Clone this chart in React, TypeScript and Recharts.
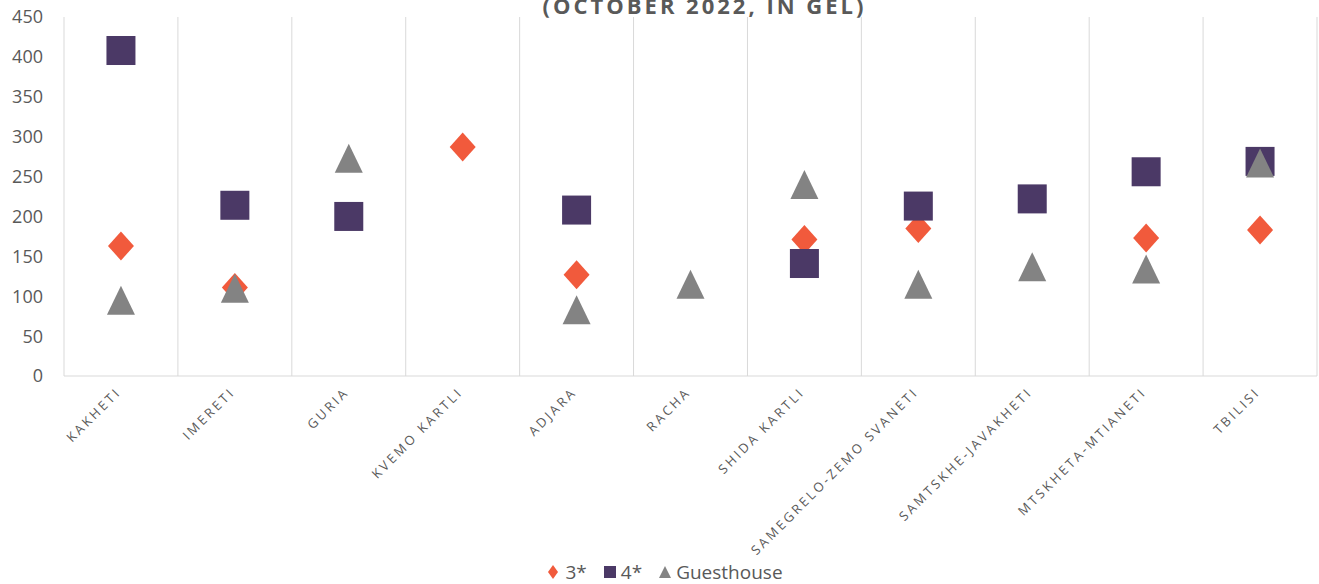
import { ComposedChart, Line, XAxis, YAxis, CartesianGrid, Legend } from "recharts";

const regions = [
  "KAKHETI",
  "IMERETI",
  "GURIA",
  "KVEMO KARTLI",
  "ADJARA",
  "RACHA",
  "SHIDA KARTLI",
  "SAMEGRELO-ZEMO SVANETI",
  "SAMTSKHE-JAVAKHETI",
  "MTSKHETA-MTIANETI",
  "TBILISI",
];

const threeStar = [163, 111, null, 287, 127, null, 171, 185, null, 173, 183];
const fourStar = [408, 214, 200, null, 208, null, 141, 213, 222, 256, 269];
const guesthouse = [95, 110, 273, null, 83, 115, 240, 115, 137, 134, 267];

const yTicks = [0, 50, 100, 150, 200, 250, 300, 350, 400, 450];

const data = regions.map((name, i) => ({
  name,
  three: threeStar[i],
  four: fourStar[i],
  guest: guesthouse[i],
}));

const ORANGE = "#F15A3C";
const PURPLE = "#4B3966";
const GRAY = "#838383";
const TEXT = "#595959";

const Diamond = (props: any) => {
  const { cx, cy, value, index } = props;
  if (cy == null || value == null) return <g key={`d${index}`} />;
  const w = 13, h = 14.5;
  return (
    <path
      key={`d${index}`}
      d={`M${cx},${cy - h} L${cx + w},${cy} L${cx},${cy + h} L${cx - w},${cy} Z`}
      fill={ORANGE}
    />
  );
};

const Square = (props: any) => {
  const { cx, cy, value, index } = props;
  if (cy == null || value == null) return <g key={`s${index}`} />;
  const s = 14.5;
  return <rect key={`s${index}`} x={cx - s} y={cy - s} width={s * 2} height={s * 2} fill={PURPLE} />;
};

const Triangle = (props: any) => {
  const { cx, cy, value, index } = props;
  if (cy == null || value == null) return <g key={`t${index}`} />;
  const w = 14, h = 14.5;
  return (
    <path
      key={`t${index}`}
      d={`M${cx},${cy - h} L${cx + w},${cy + h} L${cx - w},${cy + h} Z`}
      fill={GRAY}
    />
  );
};

const RegionTick = (props: any) => {
  const { x, y, payload } = props;
  return (
    <g transform={`translate(${x + 1},${y + 9})`}>
      <text
        x={0}
        y={0}
        textAnchor="end"
        transform="rotate(-45)"
        fill={TEXT}
        fontSize={13}
        letterSpacing={2.7}
      >
        {payload.value}
      </text>
    </g>
  );
};

const LegendContent = () => (
  <div
    style={{
      height: 24,
      display: "flex",
      justifyContent: "center",
      alignItems: "center",
      fontSize: 19,
      color: TEXT,
      gap: 17,
      paddingLeft: 14,
    }}
  >
    <span style={{ display: "flex", alignItems: "center", gap: 7 }}>
      <svg width={10} height={14}>
        <path d="M5,0 L10,7 L5,14 L0,7 Z" fill={ORANGE} />
      </svg>
      3*
    </span>
    <span style={{ display: "flex", alignItems: "center", gap: 5 }}>
      <svg width={12} height={12}>
        <rect width={12} height={12} fill={PURPLE} />
      </svg>
      4*
    </span>
    <span style={{ display: "flex", alignItems: "center", gap: 5 }}>
      <svg width={12} height={12}>
        <path d="M6,0 L12,12 L0,12 Z" fill={GRAY} />
      </svg>
      Guesthouse
    </span>
  </div>
);

export default function App() {
  return (
    <div
      style={{
        position: "absolute",
        left: 0,
        top: 0,
        width: 1319,
        height: 584,
        background: "#fff",
        fontFamily: "'Open Sans', sans-serif",
        overflow: "hidden",
      }}
    >
      <div
        style={{
          position: "absolute",
          top: -10,
          left: 0,
          width: 1319,
          textAlign: "center",
          paddingLeft: 90,
          boxSizing: "border-box",
          fontSize: 22,
          fontWeight: 700,
          letterSpacing: 3,
          color: TEXT,
          lineHeight: "30px",
          zIndex: 2,
        }}
      >
        (OCTOBER 2022, IN GEL)
      </div>
      <ComposedChart
        width={1319}
        height={584}
        data={data}
        margin={{ top: 17, right: 2, left: 0, bottom: 0 }}
      >
        <CartesianGrid
          horizontal={false}
          stroke="#d9d9d9"
          verticalCoordinatesGenerator={({ offset }: any) =>
            regions.map((_, i) => offset.left + (i * offset.width) / regions.length).concat(offset.left + offset.width)
          }
        />
        <XAxis
          dataKey="name"
          scale="band"
          interval={0}
          tickLine={false}
          axisLine={{ stroke: "#d9d9d9" }}
          height={184}
          tick={<RegionTick />}
        />
        <YAxis
          width={64}
          domain={[0, 450]}
          ticks={yTicks}
          axisLine={false}
          tickLine={false}
          tickMargin={15}
          tick={{ fill: TEXT, fontSize: 18 }}
        />
        <Legend verticalAlign="bottom" content={<LegendContent />} />
        <Line dataKey="three" name="3*" stroke="none" dot={Diamond} activeDot={false} isAnimationActive={false} />
        <Line dataKey="four" name="4*" stroke="none" dot={Square} activeDot={false} isAnimationActive={false} />
        <Line dataKey="guest" name="Guesthouse" stroke="none" dot={Triangle} activeDot={false} isAnimationActive={false} />
      </ComposedChart>
    </div>
  );
}
